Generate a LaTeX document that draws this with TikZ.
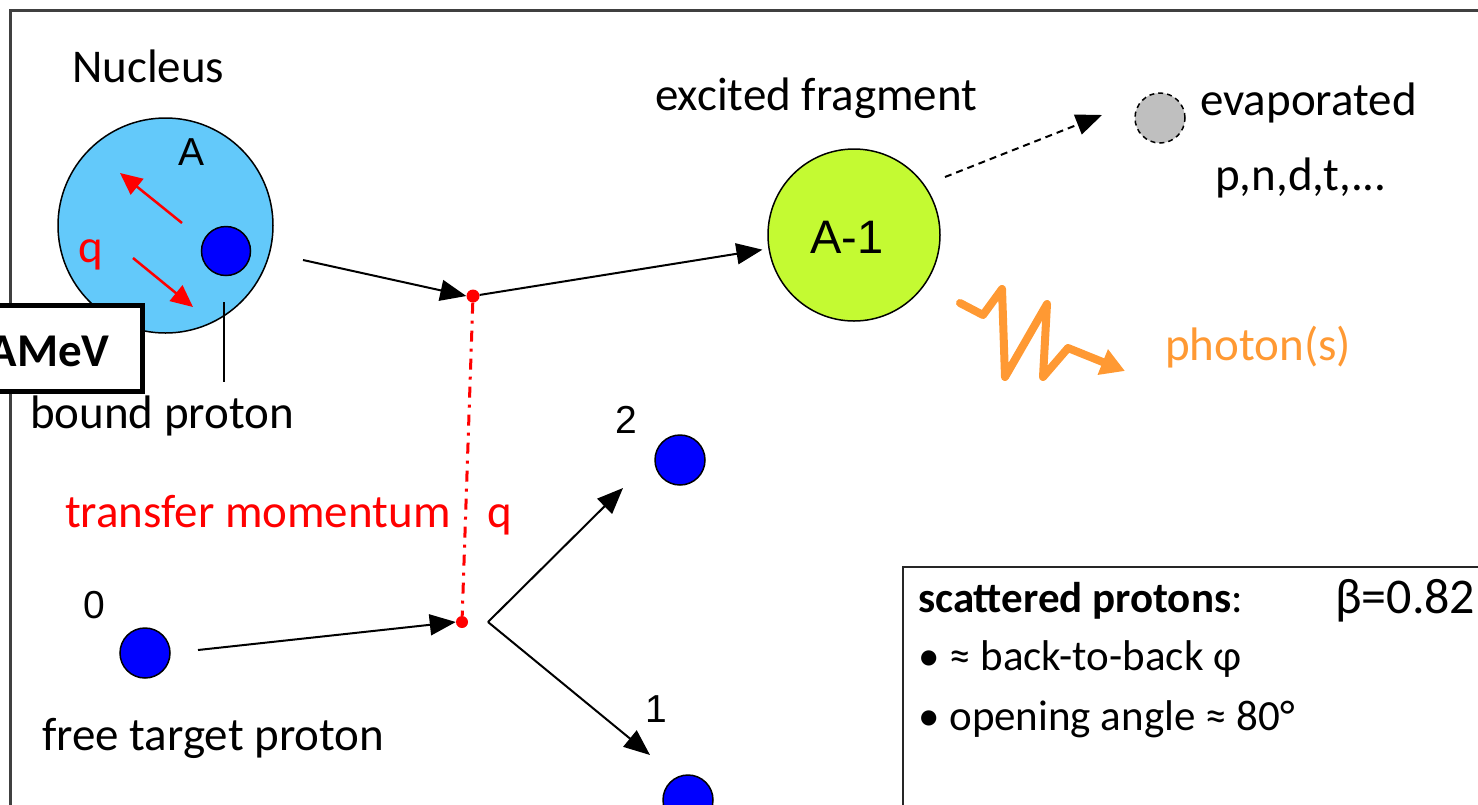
\documentclass[tikz,border=0pt]{standalone}
\usepackage{fontspec}
\setmainfont{Carlito}
\newfontfamily\arialfont{Liberation Sans}
\usetikzlibrary{arrows.meta}
\definecolor{nucblue}{RGB}{99,201,250}
\definecolor{fraggreen}{RGB}{196,250,50}
\definecolor{evapgrey}{RGB}{191,191,191}
\definecolor{phorange}{RGB}{255,153,51}
\definecolor{protblue}{RGB}{0,0,255}
\begin{document}
\begin{tikzpicture}[x=1pt,y=-1pt,
  txt/.style={font=\fontsize{47}{56}\selectfont, inner sep=0, anchor=base west},
  numtxt/.style={font=\arialfont\fontsize{39}{46}\selectfont, inner sep=0, anchor=base west},
  boxtxt/.style={font=\fontsize{43}{52}\selectfont, inner sep=0, anchor=base west},
  ball/.style={circle, draw=black, line width=1.5, inner sep=0},
  proton/.style={ball, fill=protblue, minimum size=50},
  vertexdot/.style={circle, fill=red, inner sep=0, minimum size=13},
  arr/.style={line width=2, -{Triangle[length=26,width=21]}},
  redarr/.style={red, line width=2.5, -{Triangle[length=22,width=20]}},
]
\useasboundingbox (0,0) rectangle (1478,804);
% outer frame
\coordinate (fBL) at (10,810);
\coordinate (fTL) at (10,10);
\coordinate (fTR) at (1485,10);
\draw[line width=3, black!75] (fBL) -- (fTL) -- (fTR);

% nucleus
\node[ball, fill=nucblue, minimum size=215] (nuc) at (165.5,225.5) {};
\node[txt] (nuclbl) at (72,82) {Nucleus};
\node[numtxt] (Albl) at (178,165) {A};
\node[txt, red] (qin) at (78,262) {q};
\coordinate (ra1s) at (182,223); \coordinate (ra1e) at (120,173);
\coordinate (ra2s) at (133,258); \coordinate (ra2e) at (193,307);
\draw[redarr] (ra1s) -- (ra1e);
\draw[redarr] (ra2s) -- (ra2e);
\node[proton, minimum size=49] (bp) at (226,251) {};
\coordinate (bpl1) at (224,302); \coordinate (bpl2) at (224,382);
\draw[line width=1.5] (bpl1) -- (bpl2);
\node[txt] (bplbl) at (30,428) {bound proton};

% beam energy box
\node[draw=black, line width=5, fill=white, minimum width=160, minimum height=86, inner sep=0, anchor=north west] (ebox) at (-20,303) {};
\node[txt, font=\bfseries\fontsize{47}{56}\selectfont, anchor=base east] (elbl) at (110,366) {AMeV};

% vertices
\node[vertexdot] (v1) at (473,296) {};
\node[vertexdot, minimum size=12] (v2) at (462,622) {};
\draw[red, line width=3, dash pattern=on 11 off 7 on 3 off 7] (v1) -- (v2);
\coordinate (nucout) at (303,260);
\draw[arr] (nucout) -- (v1.west);

% fragment
\node[ball, fill=fraggreen, minimum size=172] (frag) at (854,235) {};
\node[numtxt, font=\arialfont\fontsize{47}{56}\selectfont] (fraglbl) at (810,253) {A-1};
\node[txt] (exlbl) at (655,110) {excited fragment};
\draw[arr, shorten >=6] (v1) -- (frag);

% evaporated
\node[ball, fill=evapgrey, dashed, dash pattern=on 5 off 4, minimum size=50] (evap) at (1160,118) {};
\node[txt] (evlbl) at (1200,115) {evaporated};
\node[txt] (pnlbl) at (1215,190) {p,n,d,t,...};
\coordinate (ds) at (945,177); \coordinate (de) at (1102,115);
\draw[line width=2, dash pattern=on 7 off 5, -{Triangle[length=26,width=21]}] (ds) -- (de);

% photon
\coordinate (ph0) at (960,303);
\draw[phorange, line width=8, line join=round, line cap=round, -{Triangle[length=24,width=26]}]
  (ph0) -- (983,315) -- (1002,289) -- (1005,377) -- (1047,304) -- (1043,377) -- (1068,348) -- (1125,371);
\node[txt, phorange] (phlbl) at (1165,360) {photon(s)};

% transfer momentum
\node[txt, red] (tmlbl) at (65,527) {transfer momentum};
\node[txt, red] (tmq) at (487,527) {q};

% target proton
\node[proton] (p0) at (145,653) {};
\node[numtxt] (p0lbl) at (83,618) {0};
\coordinate (p0out) at (198,650);
\draw[arr] (p0out) -- (v2.west);
\node[txt] (ftlbl) at (42,750) {free target proton};

% scattered protons
\coordinate (split) at (488,622);
\node[proton] (p2) at (680,460) {};
\node[numtxt] (p2lbl) at (615,433) {2};
\node[proton] (p1) at (688,800) {};
\node[numtxt] (p1lbl) at (645,722) {1};
\coordinate (a2) at (623,488);
\coordinate (a1) at (650,755);
\draw[arr] (split) -- (a2);
\draw[arr] (split) -- (a1);

% info box
\coordinate (bxBL) at (903,820);
\coordinate (bxTL) at (903,567);
\coordinate (bxTR) at (1490,567);
\draw[line width=2.5, black!85] (bxBL) -- (bxTL) -- (bxTR);
\node[boxtxt] (sc1) at (918,612) {\textbf{scattered protons}:};
\node[txt, font=\fontsize{50}{60}\selectfont] (beta) at (1335,613) {β=0.82};
\node[boxtxt] (sc2) at (918,670) {• ≈ back-to-back φ};
\node[boxtxt] (sc3) at (918,730) {• opening angle ≈ 80°};
\end{tikzpicture}
\end{document}
